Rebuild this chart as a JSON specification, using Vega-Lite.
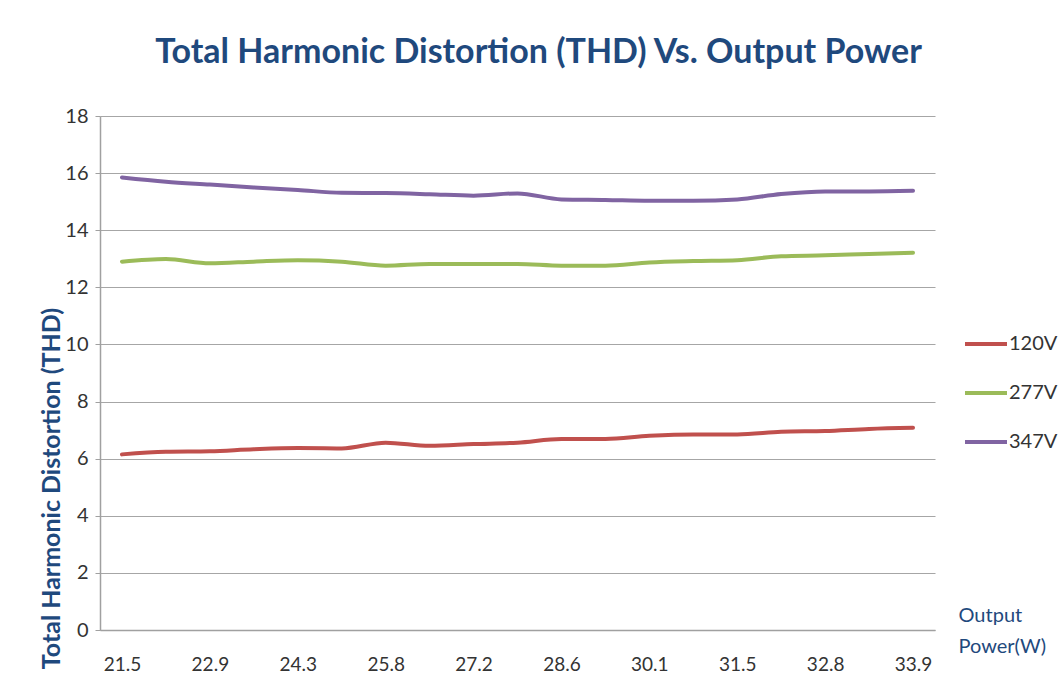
{
  "$schema": "https://vega.github.io/schema/vega-lite/v6.json",
  "autosize": "none",
  "width": 835,
  "height": 514,
  "padding": {"left": 100, "top": 116, "right": 126, "bottom": 66},
  "background": "white",
  "title": {
    "text": "Total Harmonic Distortion (THD) Vs. Output Power",
    "font": "Lato",
    "fontSize": 34,
    "fontWeight": "bold",
    "color": "#1F497D",
    "anchor": "middle",
    "dx": 21,
    "offset": 36
  },
  "data": {
    "values": [
      {"power": "21.5", "voltage": "120V", "thd": 6.15},
      {"power": "22.2", "voltage": "120V", "thd": 6.24},
      {"power": "22.9", "voltage": "120V", "thd": 6.26},
      {"power": "23.6", "voltage": "120V", "thd": 6.33},
      {"power": "24.3", "voltage": "120V", "thd": 6.37},
      {"power": "25.0", "voltage": "120V", "thd": 6.36},
      {"power": "25.8", "voltage": "120V", "thd": 6.56},
      {"power": "26.5", "voltage": "120V", "thd": 6.45},
      {"power": "27.2", "voltage": "120V", "thd": 6.51},
      {"power": "27.9", "voltage": "120V", "thd": 6.56},
      {"power": "28.6", "voltage": "120V", "thd": 6.69},
      {"power": "29.3", "voltage": "120V", "thd": 6.69},
      {"power": "30.1", "voltage": "120V", "thd": 6.80},
      {"power": "30.8", "voltage": "120V", "thd": 6.85},
      {"power": "31.5", "voltage": "120V", "thd": 6.85},
      {"power": "32.1", "voltage": "120V", "thd": 6.94},
      {"power": "32.8", "voltage": "120V", "thd": 6.97},
      {"power": "33.3", "voltage": "120V", "thd": 7.04},
      {"power": "33.9", "voltage": "120V", "thd": 7.08},
      {"power": "21.5", "voltage": "277V", "thd": 12.90},
      {"power": "22.2", "voltage": "277V", "thd": 12.99},
      {"power": "22.9", "voltage": "277V", "thd": 12.84},
      {"power": "23.6", "voltage": "277V", "thd": 12.90},
      {"power": "24.3", "voltage": "277V", "thd": 12.95},
      {"power": "25.0", "voltage": "277V", "thd": 12.90},
      {"power": "25.8", "voltage": "277V", "thd": 12.76},
      {"power": "26.5", "voltage": "277V", "thd": 12.82},
      {"power": "27.2", "voltage": "277V", "thd": 12.82},
      {"power": "27.9", "voltage": "277V", "thd": 12.82},
      {"power": "28.6", "voltage": "277V", "thd": 12.76},
      {"power": "29.3", "voltage": "277V", "thd": 12.76},
      {"power": "30.1", "voltage": "277V", "thd": 12.87},
      {"power": "30.8", "voltage": "277V", "thd": 12.92},
      {"power": "31.5", "voltage": "277V", "thd": 12.95},
      {"power": "32.1", "voltage": "277V", "thd": 13.09},
      {"power": "32.8", "voltage": "277V", "thd": 13.12},
      {"power": "33.3", "voltage": "277V", "thd": 13.17},
      {"power": "33.9", "voltage": "277V", "thd": 13.21},
      {"power": "21.5", "voltage": "347V", "thd": 15.85},
      {"power": "22.2", "voltage": "347V", "thd": 15.70},
      {"power": "22.9", "voltage": "347V", "thd": 15.60},
      {"power": "23.6", "voltage": "347V", "thd": 15.50},
      {"power": "24.3", "voltage": "347V", "thd": 15.41},
      {"power": "25.0", "voltage": "347V", "thd": 15.31},
      {"power": "25.8", "voltage": "347V", "thd": 15.30},
      {"power": "26.5", "voltage": "347V", "thd": 15.26},
      {"power": "27.2", "voltage": "347V", "thd": 15.21},
      {"power": "27.9", "voltage": "347V", "thd": 15.29},
      {"power": "28.6", "voltage": "347V", "thd": 15.08},
      {"power": "29.3", "voltage": "347V", "thd": 15.06},
      {"power": "30.1", "voltage": "347V", "thd": 15.03},
      {"power": "30.8", "voltage": "347V", "thd": 15.03},
      {"power": "31.5", "voltage": "347V", "thd": 15.08},
      {"power": "32.1", "voltage": "347V", "thd": 15.27},
      {"power": "32.8", "voltage": "347V", "thd": 15.36},
      {"power": "33.3", "voltage": "347V", "thd": 15.36},
      {"power": "33.9", "voltage": "347V", "thd": 15.38}
    ]
  },
  "mark": {"type": "line", "strokeWidth": 4, "interpolate": "monotone", "strokeCap": "round"},
  "encoding": {
    "x": {
      "field": "power",
      "type": "ordinal",
      "sort": null,
      "scale": {"type": "point", "padding": 0.5},
      "axis": {
        "values": ["21.5", "22.9", "24.3", "25.8", "27.2", "28.6", "30.1", "31.5", "32.8", "33.9"],
        "labelAngle": 0,
        "labelFont": "Lato",
        "labelFontSize": 19,
        "labelColor": "#333333",
        "labelPadding": 25,
        "ticks": false,
        "grid": false,
        "domainColor": "#A0A0A0",
        "domainWidth": 1.5,
        "title": ["Output", "Power(W)"],
        "titleFont": "Lato",
        "titleFontSize": 20,
        "titleFontWeight": "normal",
        "titleColor": "#1F497D",
        "titleAlign": "left",
        "titleAnchor": "start",
        "titleBaseline": "top",
        "titleLineHeight": 31,
        "titleX": 858,
        "titleY": -25
      }
    },
    "y": {
      "field": "thd",
      "type": "quantitative",
      "scale": {"domain": [0, 18], "nice": false},
      "axis": {
        "values": [0, 2, 4, 6, 8, 10, 12, 14, 16, 18],
        "labelFont": "Lato",
        "labelFontSize": 20,
        "labelColor": "#333333",
        "labelPadding": 7,
        "tickSize": 5,
        "tickColor": "#A0A0A0",
        "domainColor": "#A0A0A0",
        "domainWidth": 1.5,
        "gridColor": "#A6A6A6",
        "gridWidth": 1.2,
        "title": "Total Harmonic Distortion (THD)",
        "titleFont": "Lato",
        "titleFontSize": 25,
        "titleFontWeight": "bold",
        "titleColor": "#1F497D",
        "titleX": -36,
        "titleY": 372,
        "titleAlign": "center",
        "titleAngle": -90
      }
    },
    "color": {
      "field": "voltage",
      "type": "nominal",
      "scale": {"domain": ["120V", "277V", "347V"], "range": ["#C0504D", "#9BBB59", "#8064A2"]},
      "legend": {
        "title": null,
        "orient": "none",
        "legendX": 863,
        "legendY": 205,
        "symbolType": "stroke",
        "symbolSize": 1764,
        "symbolStrokeWidth": 4,
        "labelFont": "Lato",
        "labelFontSize": 20,
        "labelColor": "#333333",
        "labelOffset": 0,
        "rowPadding": 16
      }
    }
  },
  "config": {
    "view": {"stroke": null}
  }
}
